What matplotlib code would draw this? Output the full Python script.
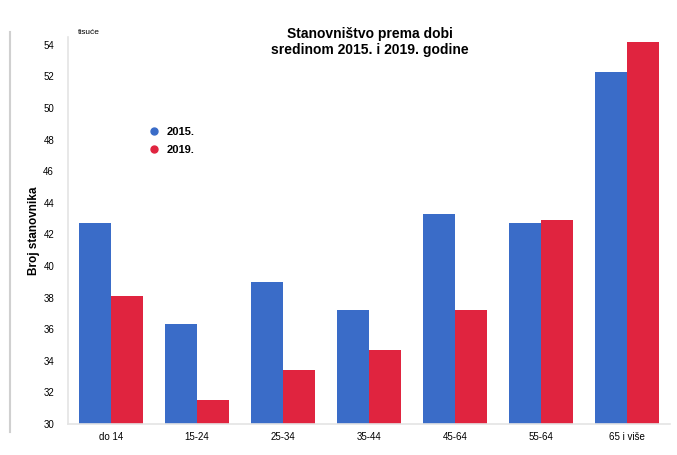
import numpy as np
import matplotlib.pyplot as plt

plt.rcParams['font.family'] = ['Liberation Sans', 'DejaVu Sans']

# Stanovnistvo prema dobi (tisuce)
categories = ["do 14", "15-24", "25-34", "35-44", "45-64", "55-64", "65 i više"]
pop_2015 = [42.7, 36.3, 39.0, 37.2, 43.3, 42.7, 52.3]
pop_2019 = [38.1, 31.5, 33.4, 34.7, 37.2, 42.9, 54.2]

x = np.arange(len(categories))
w = 0.37

fig = plt.figure(figsize=(6.77, 4.55), dpi=100)
ax = fig.add_axes([68 / 677, 31 / 455, 602 / 677, 387 / 455])

ax.bar(x - w / 2, pop_2015, w, color="#3a6cc8", label="2015.")
ax.bar(x + w / 2, pop_2019, w, color="#e0243f", label="2019.")

ax.set_xlim(-0.5, 6.5)
ax.set_ylim(30, 54.5)
ax.set_yticks(np.arange(30, 55, 2))
ax.set_xticks(x)
ax.set_xticklabels(categories)
ax.tick_params(axis="both", length=0, labelsize=7)
ax.tick_params(axis="y", pad=10)
ax.tick_params(axis="x", pad=6)

for s in ["top", "right"]:
    ax.spines[s].set_visible(False)
for s in ["left", "bottom"]:
    ax.spines[s].set_color("#e4e4e4")
    ax.spines[s].set_linewidth(1.2)

ax.set_ylabel("Broj stanovnika", fontsize=8.5, fontweight="bold", labelpad=2)

fig.text(78 / 677, 1 - 32 / 455, "tisuće", fontsize=6, va="center")
fig.text(370 / 677, 1 - 42 / 455, "Stanovništvo prema dobi\nsredinom 2015. i 2019. godine",
         ha="center", va="center", fontsize=10, fontweight="bold", linespacing=1.2)

# legend as circle markers
handles = [plt.Line2D([], [], marker="o", ls="", color=c, markersize=5)
           for c in ["#3a6cc8", "#e0243f"]]
ax.legend(handles, ["2015.", "2019."], loc="upper left",
          bbox_to_anchor=(65 / 602, 1 - 80 / 387), frameon=False,
          handletextpad=0.1, labelspacing=0.7, prop={"size": 8, "weight": "bold"})

# scan border line on the left
fig.add_artist(plt.Line2D([10 / 677, 10 / 677], [0.05, 0.93], color="#d0d0d0", lw=1.5))

fig.savefig("out.png", dpi=100)
